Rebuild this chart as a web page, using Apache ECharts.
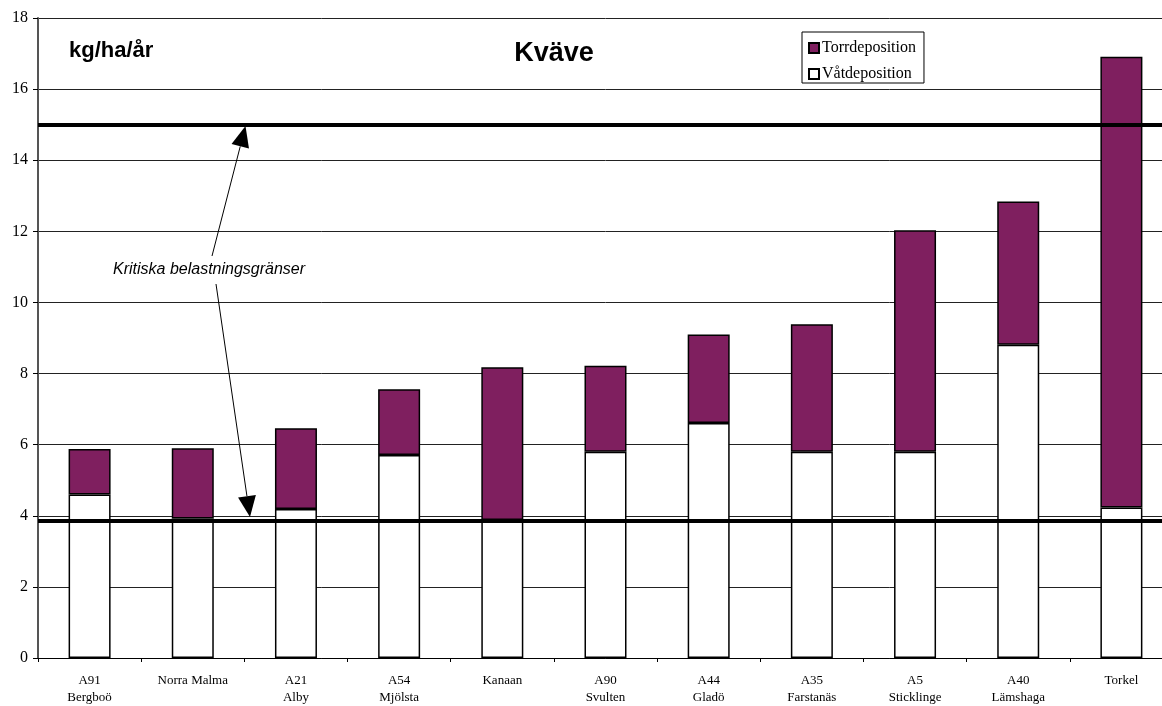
<!DOCTYPE html>
<html>
<head>
<meta charset="utf-8">
<script src="https://cdn.jsdelivr.net/npm/echarts@6/dist/echarts.min.js"></script>
<style>
  html, body { margin: 0; padding: 0; background: #fff; overflow: hidden; }
  /* diagrammet är beskuret i högerkanten, därför bredare än fönstret */
  #chart { width: 1173px; height: 706px; }
</style>
</head>
<body>
<div id="chart"></div>
<script>
// stationer
const categories = [
  'A91\nBergboö', 'Norra Malma', 'A21\nAlby', 'A54\nMjölsta', 'Kanaan',
  'A90\nSvulten', 'A44\nGladö', 'A35\nFarstanäs', 'A5\nSticklinge',
  'A40\nLämshaga', 'Torkel'
]

// kg/ha/år
const vatdeposition = [4.60, 3.92, 4.19, 5.71, 3.88, 5.80, 6.61, 5.80, 5.80, 8.81, 4.23]
const torrdeposition = [1.28, 1.98, 2.27, 1.85, 4.30, 2.42, 2.49, 3.59, 6.23, 4.03, 12.68]

// kritiska belastningsgränser
const kritiskaGranser = [15, 3.86]

const yTicks = { min: 0, max: 18, interval: 2 }

const serif = '"Liberation Serif", "Times New Roman", serif'
const sans = '"Liberation Sans", Arial, sans-serif'
const purple = '#7f1f5f'

const chart = echarts.init(document.getElementById('chart'))

// pil: linje + triangel
const arrow = (x1, y1, x2, y2) => {
  const len = 21, half = 9
  const dx = x2 - x1, dy = y2 - y1
  const d = Math.sqrt(dx * dx + dy * dy)
  const ux = dx / d, uy = dy / d
  const bx = x2 - ux * len, by = y2 - uy * len
  return [
    {
      type: 'line',
      shape: { x1: x1, y1: y1, x2: bx, y2: by },
      style: { stroke: '#000', lineWidth: 1 },
      z: 100
    },
    {
      type: 'polygon',
      shape: {
        points: [[x2, y2], [bx - uy * half, by + ux * half], [bx + uy * half, by - ux * half]]
      },
      style: { fill: '#000' },
      z: 100
    }
  ]
}

const option = {
  animation: false,
  backgroundColor: '#fff',
  grid: {
    left: 38,
    top: 18,
    bottom: 48,
    right: 0,
    containLabel: false
  },
  legend: {
    orient: 'vertical',
    left: 802,
    top: 32,
    padding: [8, 8, 1, 6],
    itemWidth: 10,
    itemHeight: 10,
    itemGap: 10,
    icon: 'rect',
    borderColor: '#000',
    borderWidth: 1,
    data: ['Torrdeposition', 'Våtdeposition'],
    textStyle: { fontFamily: serif, fontSize: 16, color: '#000', padding: [0, 0, 0, -2] }
  },
  xAxis: {
    type: 'category',
    data: categories,
    axisLine: { lineStyle: { color: '#000', width: 1 } },
    axisTick: { show: true, length: 4, lineStyle: { color: '#000' } },
    axisLabel: {
      color: '#000',
      fontFamily: serif,
      fontSize: 13,
      lineHeight: 17,
      margin: 14,
      interval: 0
    }
  },
  yAxis: {
    type: 'value',
    min: yTicks.min,
    max: yTicks.max,
    interval: yTicks.interval,
    axisLine: { show: true, lineStyle: { color: '#555', width: 2 } },
    axisTick: { show: true, length: 5, lineStyle: { color: '#000' } },
    axisLabel: { color: '#000', fontFamily: serif, fontSize: 16, margin: 10 },
    splitLine: { lineStyle: { color: '#222', width: 1 } }
  },
  series: [
    {
      name: 'Våtdeposition',
      type: 'bar',
      stack: 'kvave',
      data: vatdeposition,
      barWidth: 42,
      itemStyle: { color: '#fff', borderColor: '#000', borderWidth: 1.5 }
    },
    {
      name: 'Torrdeposition',
      type: 'bar',
      stack: 'kvave',
      data: torrdeposition,
      barWidth: 42,
      itemStyle: { color: purple, borderColor: '#000', borderWidth: 1.5 },
      markLine: {
        silent: true,
        symbol: 'none',
        label: { show: false },
        lineStyle: { color: '#000', width: 4, type: 'solid' },
        data: kritiskaGranser.map(v => ({ yAxis: v }))
      }
    }
  ],
  graphic: [
    {
      type: 'text',
      left: 69,
      top: 40,
      style: { text: 'kg/ha/år', font: 'bold 22px ' + sans, fill: '#000' }
    },
    {
      type: 'text',
      x: 554,
      y: 54,
      style: {
        text: 'Kväve', font: 'bold 27px ' + sans, fill: '#000',
        textAlign: 'center', textVerticalAlign: 'middle'
      }
    },
    {
      type: 'text',
      x: 113,
      y: 270,
      style: {
        text: 'Kritiska belastningsgränser', font: 'italic 16px ' + sans, fill: '#000',
        textVerticalAlign: 'middle'
      }
    },
    ...arrow(212, 256, 245.5, 126),
    ...arrow(216, 284, 250, 517)
  ]
}

chart.setOption(option)
</script>
</body>
</html>
